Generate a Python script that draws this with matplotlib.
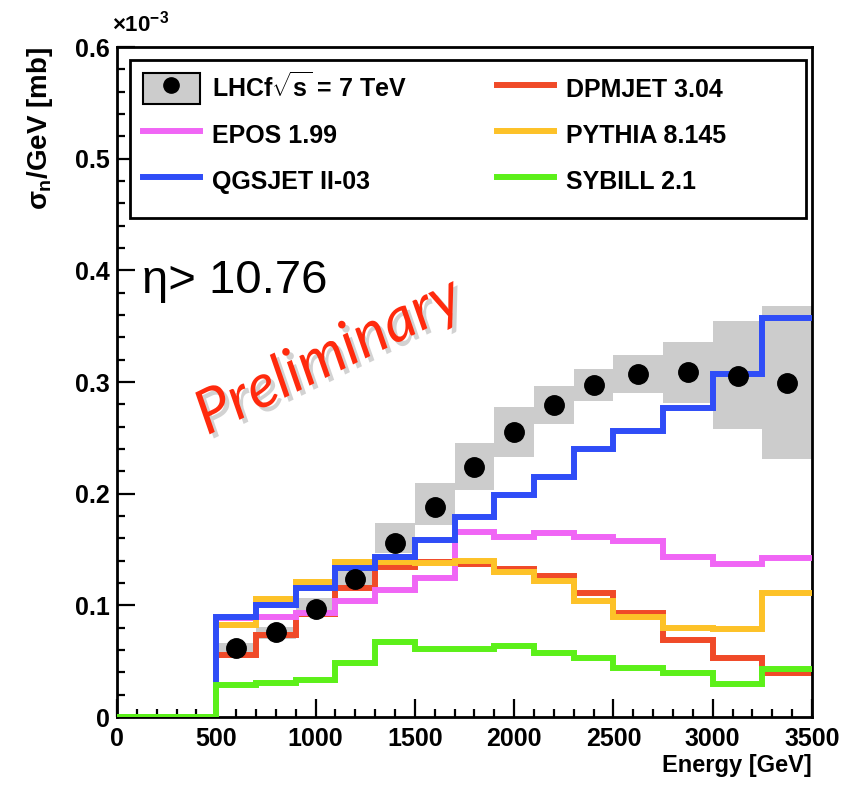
import numpy as np
import matplotlib.pyplot as plt
from matplotlib.patches import Rectangle
from matplotlib.lines import Line2D
from matplotlib.legend_handler import HandlerTuple
from matplotlib.ticker import MultipleLocator
import matplotlib.patheffects as pe

plt.rcParams['font.family'] = ['Liberation Sans', 'DejaVu Sans']
plt.rcParams['font.weight'] = 'bold'
plt.rcParams['mathtext.fontset'] = 'custom'
plt.rcParams['mathtext.rm'] = 'Liberation Sans:bold'
plt.rcParams['mathtext.it'] = 'Liberation Sans:bold'
plt.rcParams['mathtext.bf'] = 'Liberation Sans:bold'

# bin edges (GeV)
edges = [0, 500, 700, 900, 1100, 1300, 1500, 1700, 1900, 2100, 2300, 2500, 2750, 3000, 3250, 3500]

# LHCf data, units of 1e-3 mb/GeV, bins from 500 GeV up
data_val = [0.062, 0.076, 0.097, 0.1235, 0.156, 0.188, 0.224, 0.255, 0.279, 0.297, 0.307, 0.309, 0.305, 0.299]
data_lo = [0.056, 0.070, 0.090, 0.116, 0.147, 0.172, 0.203, 0.233, 0.262, 0.283, 0.290, 0.281, 0.258, 0.231]
data_hi = [0.066, 0.081, 0.107, 0.131, 0.174, 0.2095, 0.245, 0.278, 0.296, 0.312, 0.324, 0.336, 0.355, 0.368]

# model predictions, one value per bin (first bin 0-500)
dpmjet = [0, 0.0555, 0.0735, 0.092, 0.1155, 0.134, 0.139, 0.137, 0.133, 0.126, 0.111, 0.093, 0.069, 0.053, 0.039]
epos = [0, 0.089, 0.0895, 0.093, 0.104, 0.1135, 0.1245, 0.1655, 0.161, 0.165, 0.161, 0.158, 0.143, 0.137, 0.142]
pythia = [0, 0.0825, 0.1055, 0.121, 0.139, 0.139, 0.138, 0.1395, 0.130, 0.1215, 0.104, 0.0895, 0.080, 0.0785, 0.111]
qgsjet = [0, 0.0895, 0.100, 0.1155, 0.1335, 0.143, 0.1585, 0.179, 0.199, 0.215, 0.240, 0.256, 0.277, 0.307, 0.357]
sybill = [0, 0.0285, 0.0305, 0.033, 0.048, 0.067, 0.061, 0.061, 0.0635, 0.0575, 0.053, 0.044, 0.039, 0.030, 0.043]

fig = plt.figure(figsize=(8.48, 7.85), dpi=100)
ax = fig.add_axes([0.138, 0.0866, 0.8195, 0.8535])

e = np.array(edges, dtype=float)
dl = e[1:-1]
dw = np.diff(e[1:])
dc = dl + dw / 2
lo = np.array(data_lo)
hi = np.array(data_hi)

ax.bar(dl, hi - lo, width=dw, bottom=lo, align='edge', color='#cccccc', lw=0, zorder=1)

lw = 4.3
ax.stairs(dpmjet, edges, baseline=None, color='#f04a28', lw=lw, zorder=2)
ax.stairs(epos, edges, baseline=None, color='#f066f5', lw=lw, zorder=3)
ax.stairs(pythia, edges, baseline=None, color='#fdc228', lw=lw, zorder=4)
ax.stairs(qgsjet, edges, baseline=None, color='#2f4df7', lw=lw, zorder=5)
ax.stairs(sybill, edges, baseline=None, color='#5cf019', lw=lw, zorder=6)
ax.plot(dc, data_val, 'o', color='black', ms=14, zorder=7)

ax.set_xlim(0, 3500)
ax.set_ylim(0, 0.6)
ax.xaxis.set_major_locator(MultipleLocator(500))
ax.xaxis.set_minor_locator(MultipleLocator(100))
ax.yaxis.set_major_locator(MultipleLocator(0.1))
ax.yaxis.set_minor_locator(MultipleLocator(0.02))
ax.set_yticks([0, 0.1, 0.2, 0.3, 0.4, 0.5, 0.6], ['0', '0.1', '0.2', '0.3', '0.4', '0.5', '0.6'])
ax.tick_params(which='both', direction='in', width=1.6, labelsize=18)
ax.tick_params(which='major', length=13)
ax.tick_params(which='minor', length=6)
ax.tick_params(axis='x', pad=7)
ax.tick_params(axis='y', pad=5)
for s in ax.spines.values():
    s.set_linewidth(2)

fig.text(0.957, 0.025, 'Energy [GeV]', ha='right', va='center', fontsize=17)
fig.text(0.047, 0.94, r'$\sigma_n$/GeV [mb]', rotation=90, ha='center', va='top', fontsize=20)
fig.text(0.132, 0.953, r'$\times$10$^{-3}$', ha='left', va='bottom', fontsize=16)

ax.text(0.036, 0.633, 'η> 10.76', transform=ax.transAxes, fontsize=34,
        fontweight='normal', va='baseline', ha='left')
ax.text(0.305, 0.537, 'Preliminary', transform=ax.transAxes, fontsize=44,
        family='Lato', style='italic', fontweight='normal', color='#ff2a0d',
        rotation=26, ha='center', va='center', zorder=10,
        path_effects=[pe.withSimplePatchShadow(offset=(3, -3), shadow_rgbFace='gray', alpha=0.35)])

# legend frame drawn separately so the columns keep their spacing
ax.add_patch(Rectangle((0.019, 0.745), 0.972, 0.236, transform=ax.transAxes,
                       facecolor='white', edgecolor='black', lw=2, zorder=8))

box = Rectangle((0, 0), 1, 1, facecolor='#cccccc', edgecolor='black', lw=1.5)
dot = Line2D([], [], marker='o', color='black', ls='none', ms=11)
handles = [(box, dot),
           Line2D([], [], color='#f066f5', lw=lw),
           Line2D([], [], color='#2f4df7', lw=lw),
           Line2D([], [], color='#f04a28', lw=lw),
           Line2D([], [], color='#fdc228', lw=lw),
           Line2D([], [], color='#5cf019', lw=lw)]
labels = [r'LHCf$\sqrt{s}$ = 7 TeV', 'EPOS 1.99', 'QGSJET II-03',
          'DPMJET 3.04', 'PYTHIA 8.145', 'SYBILL 2.1']
leg = ax.legend(handles, labels, ncol=2, loc='upper left',
                bbox_to_anchor=(0.019, 0.981),
                handler_map={tuple: HandlerTuple(ndivide=1, pad=0)},
                fontsize=18, handlelength=2.28, handleheight=1.5, labelspacing=0.62,
                handletextpad=0.48, borderpad=0.5, columnspacing=3.6,
                frameon=False, borderaxespad=0)
leg.set_zorder(9)

plt.savefig('out.png', dpi=100)
